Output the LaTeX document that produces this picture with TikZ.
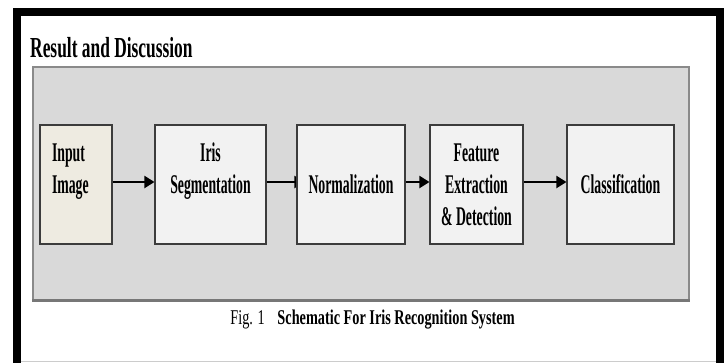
\documentclass[tikz,border=0pt]{standalone}
\usepackage{fontspec}
\setmainfont{Liberation Serif}
% narrow Times-like faces for the heading, the stage labels and the caption
\newfontfamily\headfont[FakeStretch=0.6]{Liberation Serif}
\newfontfamily\stagefont[FakeStretch=0.51]{Liberation Serif}
\newfontfamily\capfont[FakeStretch=0.68]{Liberation Serif}
\usetikzlibrary{arrows.meta}
\pgfdeclarelayer{background}
\pgfsetlayers{background,main}
\definecolor{panelfill}{HTML}{D9D9D9}
\definecolor{panelline}{HTML}{8A8A8A}
\definecolor{panelshade}{HTML}{777777}
\definecolor{stagefill}{HTML}{F2F2F2}
\definecolor{inputfill}{HTML}{EEEBE1}
\definecolor{stageline}{HTML}{3C3C3C}
\tikzset{
  stagebox/.style={draw=stageline, line width=1.1pt, fill=stagefill,
    minimum height=119pt, inner xsep=0pt, inner ysep=0pt, align=center,
    font=\stagefont\bfseries\fontsize{27}{32}\selectfont},
  flow/.style={line width=2pt, -{Triangle[length=10pt,width=12pt]}},
  headtext/.style={inner sep=0pt, font=\headfont\bfseries\fontsize{29}{34}\selectfont},
  captext/.style={inner sep=0pt, font=\capfont\fontsize{21}{25}\selectfont}
}
\begin{document}
\begin{tikzpicture}[x=1pt,y=-1pt]
\useasboundingbox (0,0) rectangle (728,362);

% processing stages
\node[stagebox, fill=inputfill, minimum width=72pt, text width=72pt, align=left]
  (input) at (76,184.5) {\hspace*{12pt}Input\\\hspace*{12pt}Image\\\mbox{}};
\node[stagebox, minimum width=111pt] (seg) at (210.5,184.5) {Iris\\Segmentation\\\mbox{}};
\node[stagebox, minimum width=108pt] (norm) at (351,184.5) {Normalization};
\node[stagebox, minimum width=93pt] (feat) at (476.5,184.5) {Feature\\Extraction\\\& Detection};
\node[stagebox, minimum width=107pt] (cls) at (620.5,184.5) {Classification};

% heading and caption
\node[headtext, anchor=base west] (head) at (30,57) {Result and Discussion};
\node[captext, anchor=base] (cap) at (372.5,324)
  {Fig. 1\hspace{0.6em}\textbf{Schematic For Iris Recognition System}};

\begin{pgfonlayer}{background}
  \fill[white] (0,0) rectangle (728,362);
  % grey panel behind the chain
  \node[draw=panelline, line width=2pt, fill=panelfill, minimum width=656pt,
        minimum height=233pt, inner sep=0pt] (panel) at (361,183.5) {};
  \draw[panelshade, line width=3pt] ([yshift=1pt]panel.south west) -- ([yshift=1pt]panel.south east);
  % connectors between the stages
  \draw[flow] ([yshift=2.5pt]input.east) -- ([yshift=2.5pt]seg.west);
  \draw[flow] ([yshift=2.5pt]seg.east) -- ([xshift=8pt,yshift=2.5pt]norm.west);
  \draw[flow] ([yshift=2.5pt]norm.east) -- ([yshift=2.5pt]feat.west);
  \draw[flow] ([yshift=2.5pt]feat.east) -- ([yshift=2.5pt]cls.west);
\end{pgfonlayer}

% black page frame, open at the bottom
\draw[line width=8pt, line join=miter] (17,370) -- (17,12) -- (720,12) -- (720,370);
\draw[black!20, line width=1pt] (21,361.5) -- (716,361.5);
\end{tikzpicture}
\end{document}
